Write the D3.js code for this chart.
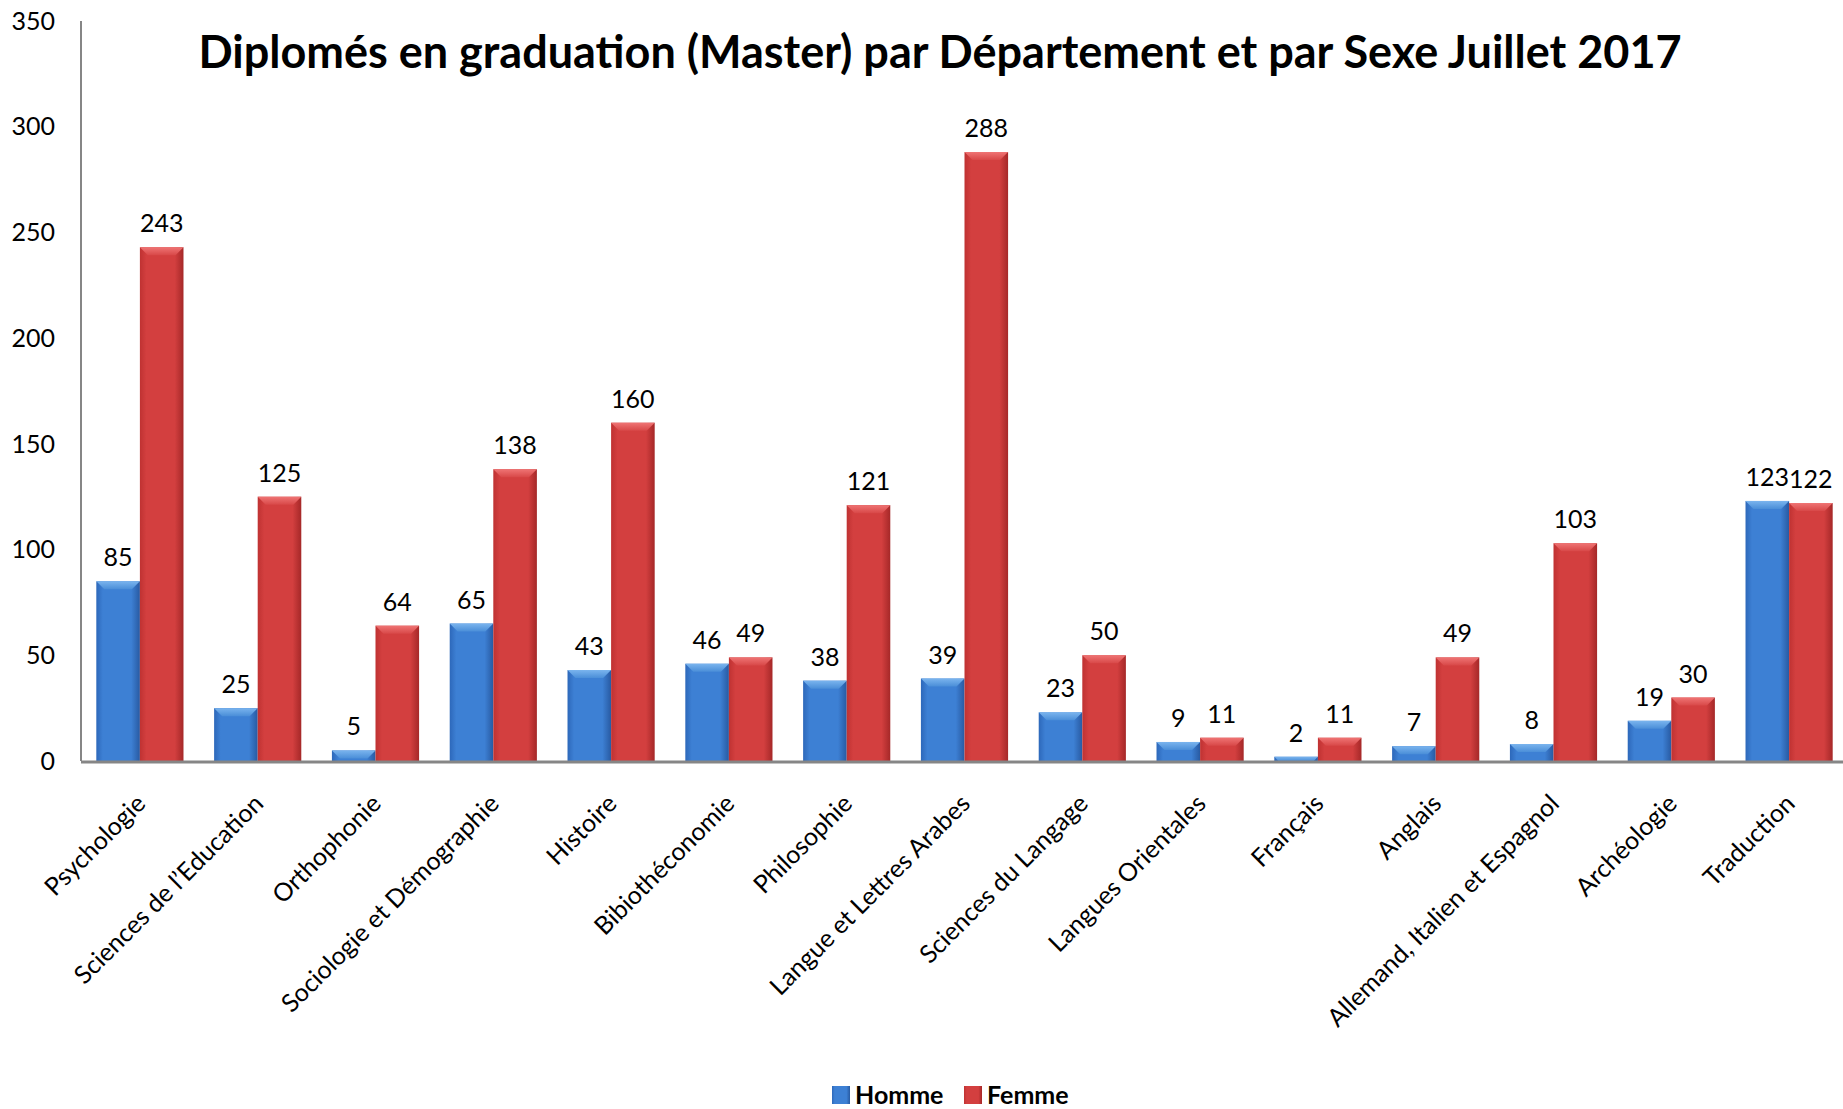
<!DOCTYPE html>
<html>
<head>
<meta charset="utf-8">
<script src="https://cdn.jsdelivr.net/npm/d3@7"></script>
<style>
  body { margin: 0; background: #fff; }
  svg { display: block; font-family: Lato, "Noto Sans", sans-serif; }
</style>
</head>
<body>
<div id="chart"></div>
<script>
// données
const departements = ["Psychologie", "Sciences de l\u2019Education", "Orthophonie", "Sociologie et Démographie",
  "Histoire", "Bibiothéconomie", "Philosophie", "Langue et Lettres Arabes", "Sciences du Langage",
  "Langues Orientales", "Français", "Anglais", "Allemand, Italien et Espagnol", "Archéologie", "Traduction"];
const homme = [85, 25, 5, 65, 43, 46, 38, 39, 23, 9, 2, 7, 8, 19, 123];
const femme = [243, 125, 64, 138, 160, 49, 121, 288, 50, 11, 11, 49, 103, 30, 122];
const series = ["Homme", "Femme"];
const yTicks = [0, 50, 100, 150, 200, 250, 300, 350];

const W = 1843, H = 1109;
const mLeft = 81, mRight = 1848, mTop = 21, mBottom = 761;

const svg = d3.select("#chart").append("svg")
  .attr("width", W).attr("height", H);

// dégradés façon Excel 3D
const defs = svg.append("defs");
const palettes = {
  Homme: { edgeL: "#2d68ba", mid: "#3d80d4", edgeR: "#285aa2", bevel: "#7ab4ee", bevelDark: "#4a8ed8" },
  Femme: { edgeL: "#bf3232", mid: "#d33f3f", edgeR: "#a52828", bevel: "#ef7474", bevelDark: "#d84848" }
};
Object.entries(palettes).forEach(([k, p]) => {
  const g = defs.append("linearGradient").attr("id", "g-" + k).attr("x1", 0).attr("x2", 1).attr("y1", 0).attr("y2", 0);
  g.append("stop").attr("offset", "0%").attr("stop-color", p.edgeL);
  g.append("stop").attr("offset", "15%").attr("stop-color", p.mid);
  g.append("stop").attr("offset", "80%").attr("stop-color", p.mid);
  g.append("stop").attr("offset", "100%").attr("stop-color", p.edgeR);
  const b = defs.append("linearGradient").attr("id", "b-" + k).attr("x1", 0).attr("x2", 0).attr("y1", 0).attr("y2", 1);
  b.append("stop").attr("offset", "0%").attr("stop-color", p.bevel);
  b.append("stop").attr("offset", "100%").attr("stop-color", p.bevelDark);
});

const x0 = d3.scaleBand().domain(departements).range([mLeft, mRight]).paddingInner(0.26).paddingOuter(0.13);
const x1 = d3.scaleBand().domain(series).range([0, x0.bandwidth()]);
const y = d3.scaleLinear().domain([0, 350]).range([mBottom, mTop]);

// titre
svg.append("text")
  .attr("x", 940).attr("y", 68)
  .attr("text-anchor", "middle")
  .attr("font-size", 45).attr("font-weight", "bold")
  .attr("fill", "#000")
  .text("Diplomés en graduation (Master) par Département et par Sexe Juillet 2017");

// axe Y (ticks seulement en texte)
svg.append("g").selectAll("text")
  .data(yTicks).join("text")
  .attr("x", 55).attr("y", d => y(d))
  .attr("dy", "0.35em")
  .attr("text-anchor", "end")
  .attr("font-size", 25)
  .text(d => d);

const groups = svg.append("g").selectAll("g")
  .data(departements.map((d, i) => ({ dep: d, vals: [homme[i], femme[i]] })))
  .join("g")
  .attr("transform", d => `translate(${x0(d.dep)},0)`);

const bars = groups.selectAll("g")
  .data(d => d.vals.map((v, j) => ({ s: series[j], v })))
  .join("g");

bars.append("rect")
  .attr("x", d => x1(d.s))
  .attr("y", d => y(d.v))
  .attr("width", x1.bandwidth())
  .attr("height", d => y(0) - y(d.v))
  .attr("fill", d => `url(#g-${d.s})`);

// biseau du haut
bars.append("path")
  .attr("d", d => {
    const bx = x1(d.s), bw = x1.bandwidth(), by = y(d.v);
    const h = Math.min(8, y(0) - by);
    const inset = Math.min(8, h);
    return `M${bx},${by}L${bx + bw},${by}L${bx + bw - inset},${by + h}L${bx + inset},${by + h}Z`;
  })
  .attr("fill", d => `url(#b-${d.s})`);

bars.append("text")
  .attr("x", d => x1(d.s) + x1.bandwidth() / 2)
  .attr("y", d => y(d.v) - 15)
  .attr("text-anchor", "middle")
  .attr("font-size", 25)
  .text(d => d.v);

// axes
svg.append("line")
  .attr("x1", mLeft).attr("x2", mLeft).attr("y1", mTop).attr("y2", mBottom)
  .attr("stroke", "#868686").attr("stroke-width", 2);
svg.append("line")
  .attr("x1", mLeft).attr("x2", W).attr("y1", mBottom + 1).attr("y2", mBottom + 1)
  .attr("stroke", "#868686").attr("stroke-width", 3);

// libellés X
svg.append("g").selectAll("text")
  .data(departements).join("text")
  .attr("transform", d => `translate(${x0(d) + x0.bandwidth() / 2 + 1},${mBottom + 38}) rotate(-45)`)
  .attr("text-anchor", "end")
  .attr("dy", "0.35em")
  .attr("font-size", 25)
  .text(d => d);

// légende
const legend = svg.append("g").attr("transform", "translate(832,1086)");
const legX = [0, 132];
series.forEach((s, i) => {
  const g = legend.append("g").attr("transform", `translate(${legX[i]},0)`);
  g.append("rect").attr("width", 18).attr("height", 18).attr("fill", `url(#g-${s})`);
  g.append("text").attr("x", 23).attr("y", 9).attr("dy", "0.36em")
    .attr("font-size", 25).attr("font-weight", "bold").text(s);
});
</script>
</body>
</html>
